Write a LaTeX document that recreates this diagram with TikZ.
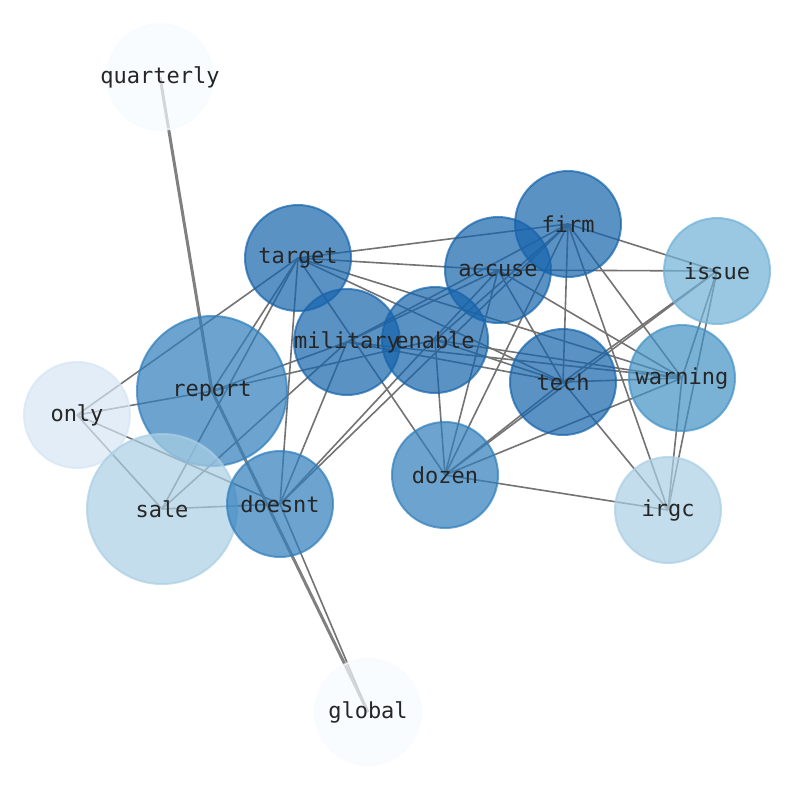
\documentclass[tikz,border=0pt]{standalone}
\usepackage{fontspec}
\setmonofont{DejaVu Sans Mono}
\usepackage{tikz}
\definecolor{bluedark}{RGB}{22,100,172}
\definecolor{bluemid}{RGB}{47,126,188}
\definecolor{bluewarn}{RGB}{66,146,198}
\definecolor{bluelight}{RGB}{112,178,216}
\definecolor{bluepale}{RGB}{170,207,229}
\definecolor{bluefaint}{RGB}{214,230,244}
\definecolor{bluewhite}{RGB}{247,251,255}
\def\wordfont{\ttfamily\fontsize{22}{24}\selectfont}

\begin{document}
\begin{tikzpicture}[x=1pt,y=-1pt,
  blob/.style={circle, minimum size=106pt, inner sep=0pt, line width=2pt, fill opacity=0.7, draw opacity=0.7, fill=#1, draw=#1},
  bigblob/.style={blob=#1, minimum size=150pt},
  word/.style={font=\wordfont, text=black!85},
  link/.style={draw=black!55, line width=1.6pt},
  heavylink/.style={draw=black!50, line width=3pt}]
\fill[white] (0,0) rectangle (794,790);
\useasboundingbox (0,0) rectangle (794,790);
% centres
\coordinate (quarterly) at (160,77);
\coordinate (target) at (298,258);
\coordinate (firm) at (568,224);
\coordinate (accuse) at (498,270);
\coordinate (issue) at (717,271);
\coordinate (military) at (347,342);
\coordinate (enable) at (435,340);
\coordinate (report) at (212,391);
\coordinate (only) at (77,415);
\coordinate (tech) at (563,382);
\coordinate (warning) at (682,378);
\coordinate (dozen) at (445,475);
\coordinate (doesnt) at (280,504);
\coordinate (sale) at (162,509);
\coordinate (irgc) at (668,510);
\coordinate (global) at (368,712);
% links
\draw[heavylink] (quarterly) -- (report);
\draw[heavylink] (report) -- (global);
\draw[link] (doesnt) -- (global);
\draw[link] (target) -- (firm);
\draw[link] (target) -- (accuse);
\draw[link] (target) -- (tech);
\draw[link] (target) -- (warning);
\draw[link] (target) -- (only);
\draw[link] (target) -- (report);
\draw[link] (target) -- (sale);
\draw[link] (target) -- (doesnt);
\draw[link] (target) -- (dozen);
\draw[link] (accuse) -- (issue);
\draw[link] (accuse) -- (tech);
\draw[link] (accuse) -- (warning);
\draw[link] (accuse) -- (dozen);
\draw[link] (accuse) -- (doesnt);
\draw[link] (accuse) -- (military);
\draw[link] (firm) -- (issue);
\draw[link] (firm) -- (tech);
\draw[link] (firm) -- (warning);
\draw[link] (firm) -- (irgc);
\draw[link] (firm) -- (dozen);
\draw[link] (firm) -- (doesnt);
\draw[link] (firm) -- (military);
\draw[link] (firm) -- (enable);
\draw[link] (report) -- (military);
\draw[link] (report) -- (enable);
\draw[link] (only) -- (report);
\draw[link] (only) -- (sale);
\draw[link] (only) -- (doesnt);
\draw[link] (sale) -- (doesnt);
\draw[link] (sale) -- (military);
\draw[link] (military) -- (tech);
\draw[link] (military) -- (warning);
\draw[link] (military) -- (doesnt);
\draw[link] (enable) -- (tech);
\draw[link] (enable) -- (warning);
\draw[link] (enable) -- (dozen);
\draw[link] (dozen) -- (tech);
\draw[link] (dozen) -- (warning);
\draw[link] (dozen) -- (irgc);
\draw[link] (issue) -- (dozen);
\draw[link] (issue) -- (tech);
\draw[link] (issue) -- (warning);
\draw[link] (issue) -- (irgc);
\draw[link] (warning) -- (irgc);
\draw[link] (tech) -- (irgc);
\draw[link] (tech) -- (warning);
% circles
\node (quarterly-c) at (quarterly) [blob=bluewhite] {};
\node (only-c) at (only) [blob=bluefaint] {};
\node (report-c) at (report) [bigblob=bluemid] {};
\node (sale-c) at (sale) [bigblob=bluepale] {};
\node (doesnt-c) at (doesnt) [blob=bluemid] {};
\node (target-c) at (target) [blob=bluedark] {};
\node (military-c) at (military) [blob=bluedark] {};
\node (enable-c) at (enable) [blob=bluedark] {};
\node (accuse-c) at (accuse) [blob=bluedark] {};
\node (firm-c) at (firm) [blob=bluedark] {};
\node (issue-c) at (issue) [blob=bluelight] {};
\node (tech-c) at (tech) [blob=bluedark] {};
\node (warning-c) at (warning) [blob=bluewarn] {};
\node (dozen-c) at (dozen) [blob=bluemid] {};
\node (irgc-c) at (irgc) [blob=bluepale] {};
\node (global-c) at (global) [blob=bluewhite] {};
% words
\node (quarterly-w) at (quarterly) [word] {quarterly};
\node (only-w) at (only) [word] {only};
\node (report-w) at (report) [word] {report};
\node (sale-w) at (sale) [word] {sale};
\node (doesnt-w) at (doesnt) [word] {doesnt};
\node (target-w) at (target) [word] {target};
\node (military-w) at (military) [word] {military};
\node (enable-w) at (enable) [word] {enable};
\node (accuse-w) at (accuse) [word] {accuse};
\node (firm-w) at (firm) [word] {firm};
\node (issue-w) at (issue) [word] {issue};
\node (tech-w) at (tech) [word] {tech};
\node (warning-w) at (warning) [word] {warning};
\node (dozen-w) at (dozen) [word] {dozen};
\node (irgc-w) at (irgc) [word] {irgc};
\node (global-w) at (global) [word] {global};
\end{tikzpicture}
\end{document}
